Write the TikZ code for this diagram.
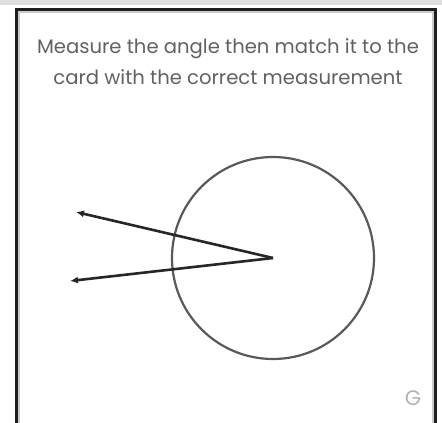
\documentclass[tikz,border=0pt]{standalone}
\usepackage{fontspec}
\setmainfont{Poppins}
\usetikzlibrary{arrows.meta}

\begin{document}
\begin{tikzpicture}[x=1pt,y=-1pt,>={Latex[length=8pt,width=7pt]},
  ray/.style={draw=black!85,line width=2.6pt,->},
  prompt/.style={font=\fontsize{19.6}{31}\selectfont,text=black!62,align=center}]
\useasboundingbox (0,0) rectangle (442,423);
\fill[black!12] (0,0) rectangle (442,5);
\draw[black!20,line width=2pt] (19,423)--(19,12)--(432.5,12)--(432.5,423);
\draw[black!88,line width=3pt] (16.5,423)--(16.5,9.5)--(435.5,9.5)--(435.5,423);
\node[prompt] (task) at (228,62) {Measure the angle then match it to the\\card with the correct measurement};
\node[draw=black!65,line width=2.2pt,circle,minimum size=202pt,inner sep=0pt] (dial) at (273,258) {};
\coordinate (vertex) at (273,258);
\coordinate (upper) at (76,212);
\coordinate (lower) at (70,281);
\draw[ray] (vertex)--(upper);
\draw[ray] (vertex)--(lower);
\node[text=black!30,font=\fontsize{21}{21}\selectfont] (tag) at (413,398) {G};
\end{tikzpicture}
\end{document}
